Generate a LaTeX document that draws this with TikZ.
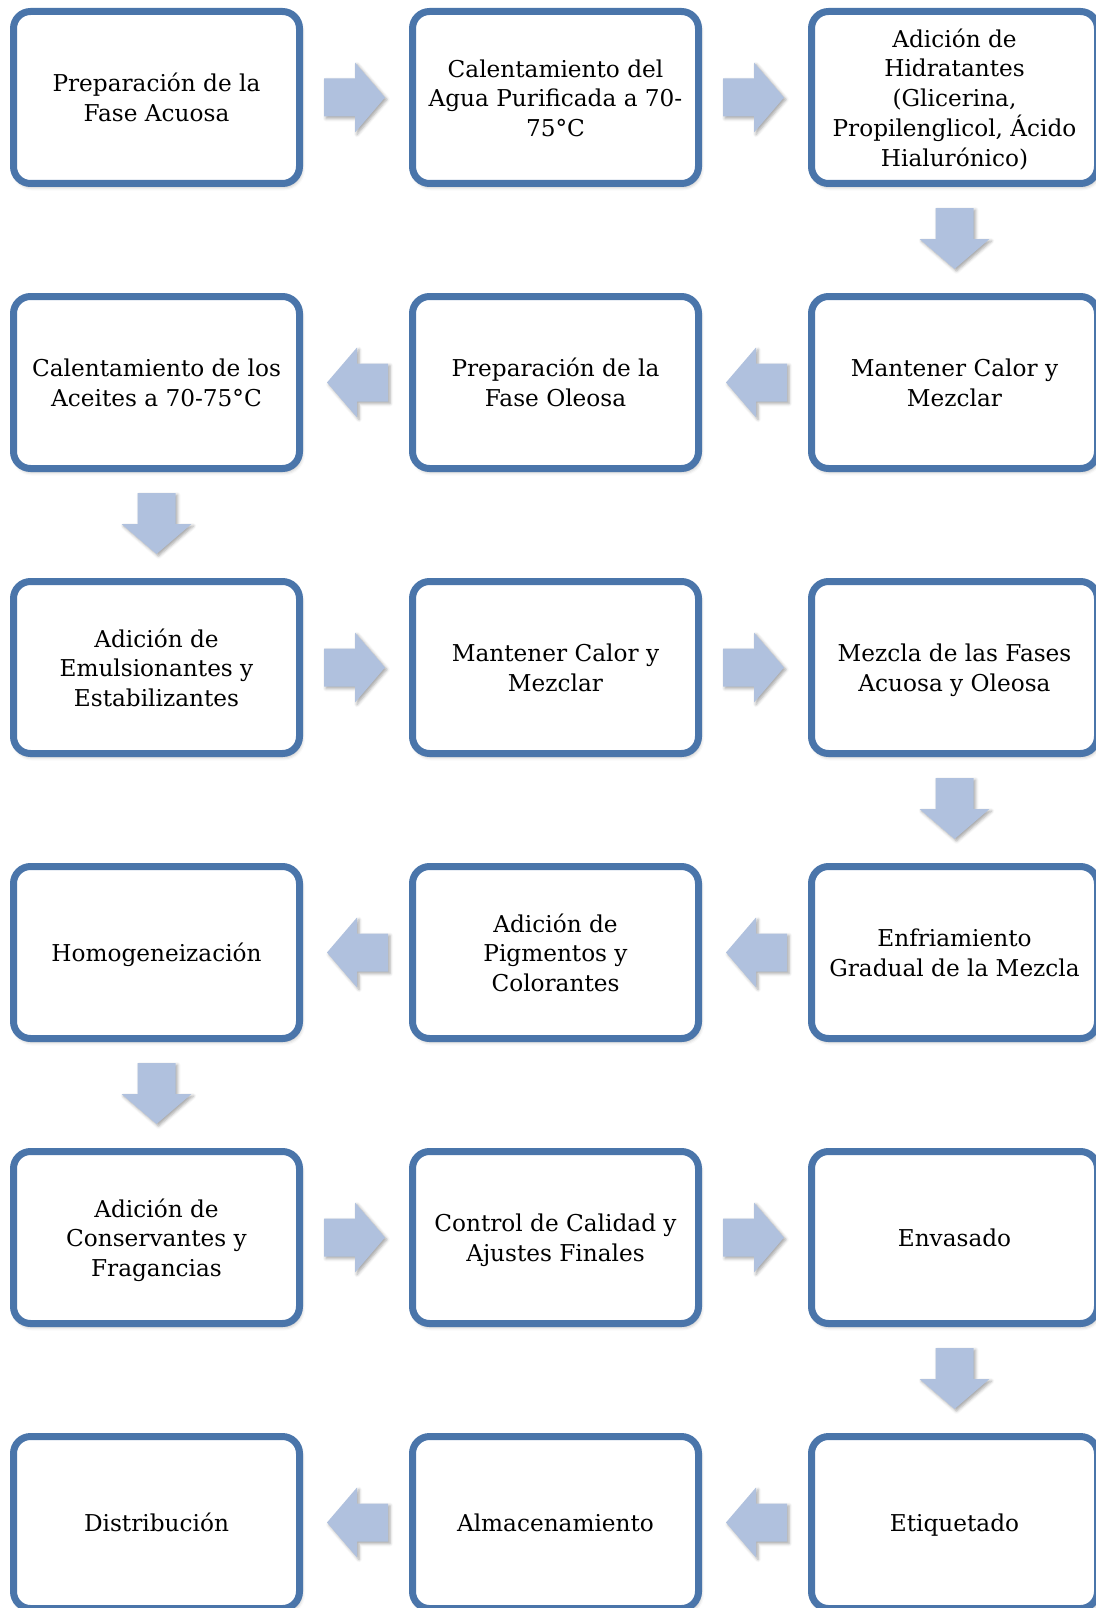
\documentclass[tikz,border=0pt]{standalone}
\usepackage{fontspec}
\setmainfont{DejaVu Serif}
\usetikzlibrary{calc,shadows.blur}
\definecolor{boxline}{RGB}{74,117,170}
\definecolor{arrowfill}{RGB}{176,193,222}
\newcommand\bt[1]{\begin{tabular}{@{}c@{}}\rule{0pt}{27pt}#1\end{tabular}}
\tikzset{
  stepbox/.style={draw=boxline, line width=7pt, fill=white, rounded corners=17pt,
    minimum width=286pt, minimum height=172pt, inner sep=0pt,
    font=\fontsize{23.2}{29.5}\selectfont,
    blur shadow={shadow xshift=1.5pt, shadow yshift=-3pt, shadow blur radius=4pt, shadow opacity=35}},
  blockarrow/.style={fill=arrowfill, draw=none,
    blur shadow={shadow xshift=2pt, shadow yshift=-2pt, shadow blur radius=3pt, shadow opacity=35}}
}
\newcommand\flowarrow[3]{%
  \coordinate (mid-#1-#2) at ($(#1)!0.5!(#2)$);
  \path[blockarrow, shift={(mid-#1-#2)}, rotate=#3]
    (-32,-19) -- (-1,-19) -- (-1,-35) -- (29,0) -- (-1,35) -- (-1,19) -- (-32,19) -- cycle;}
\begin{document}
\begin{tikzpicture}[x=1pt,y=-1pt]
\useasboundingbox (0,0) rectangle (1095,1608);
% row 1
\node[stepbox] (n11) at (156.5,97.5) {\bt{Preparación de la\\Fase Acuosa}};
\node[stepbox] (n12) at (555.5,97.5) {\bt{Calentamiento del\\Agua Purificada a 70-\\75°C}};
\node[stepbox] (n13) at (954.5,97.5) {\bt{Adición de\\Hidratantes\\(Glicerina,\\Propilenglicol, Ácido\\Hialurónico)}};
% row 2
\node[stepbox] (n23) at (954.5,382.5) {\bt{Mantener Calor y\\Mezclar}};
\node[stepbox] (n22) at (555.5,382.5) {\bt{Preparación de la\\Fase Oleosa}};
\node[stepbox] (n21) at (156.5,382.5) {\bt{Calentamiento de los\\Aceites a 70-75°C}};
% row 3
\node[stepbox] (n31) at (156.5,667.5) {\bt{Adición de\\Emulsionantes y\\Estabilizantes}};
\node[stepbox] (n32) at (555.5,667.5) {\bt{Mantener Calor y\\Mezclar}};
\node[stepbox] (n33) at (954.5,667.5) {\bt{Mezcla de las Fases\\Acuosa y Oleosa}};
% row 4
\node[stepbox] (n43) at (954.5,952.5) {\bt{Enfriamiento\\Gradual de la Mezcla}};
\node[stepbox] (n42) at (555.5,952.5) {\bt{Adición de\\Pigmentos y\\Colorantes}};
\node[stepbox] (n41) at (156.5,952.5) {\bt{Homogeneización}};
% row 5
\node[stepbox] (n51) at (156.5,1237.5) {\bt{Adición de\\Conservantes y\\Fragancias}};
\node[stepbox] (n52) at (555.5,1237.5) {\bt{Control de Calidad y\\Ajustes Finales}};
\node[stepbox] (n53) at (954.5,1237.5) {\bt{Envasado}};
% row 6
\node[stepbox] (n63) at (954.5,1522.5) {\bt{Etiquetado}};
\node[stepbox] (n62) at (555.5,1522.5) {\bt{Almacenamiento}};
\node[stepbox] (n61) at (156.5,1522.5) {\bt{Distribución}};
% arrows
\flowarrow{n11}{n12}{0}
\flowarrow{n12}{n13}{0}
\flowarrow{n13}{n23}{-90}
\flowarrow{n23}{n22}{180}
\flowarrow{n22}{n21}{180}
\flowarrow{n21}{n31}{-90}
\flowarrow{n31}{n32}{0}
\flowarrow{n32}{n33}{0}
\flowarrow{n33}{n43}{-90}
\flowarrow{n43}{n42}{180}
\flowarrow{n42}{n41}{180}
\flowarrow{n41}{n51}{-90}
\flowarrow{n51}{n52}{0}
\flowarrow{n52}{n53}{0}
\flowarrow{n53}{n63}{-90}
\flowarrow{n63}{n62}{180}
\flowarrow{n62}{n61}{180}
\end{tikzpicture}
\end{document}
